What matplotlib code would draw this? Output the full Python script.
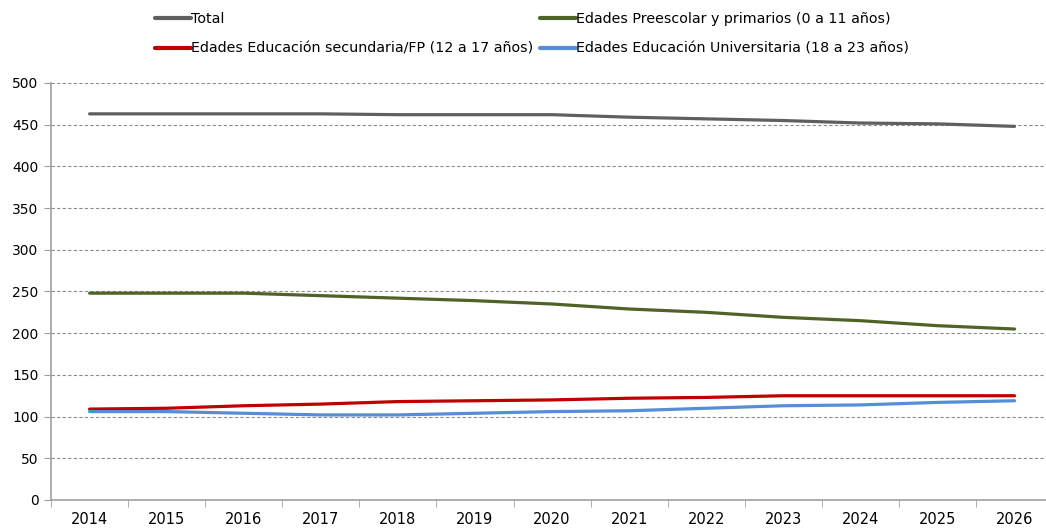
import numpy as np
import matplotlib.pyplot as plt
from matplotlib.ticker import FixedLocator

years = ["2014", "2015", "2016", "2017", "2018", "2019", "2020",
         "2021", "2022", "2023", "2024", "2025", "2026"]
total = [463, 463, 463, 463, 462, 462, 462, 459, 457, 455, 452, 451, 448]
preescolar = [248, 248, 248, 245, 242, 239, 235, 229, 225, 219, 215, 209, 205]
secundaria = [109, 110, 113, 115, 118, 119, 120, 122, 123, 125, 125, 125, 125]
universitaria = [106, 106, 104, 102, 102, 104, 106, 107, 110, 113, 114, 117, 119]

labels = ["Total",
          "Edades Preescolar y primarios (0 a 11 años)",
          "Edades Educación secundaria/FP (12 a 17 años)",
          "Edades Educación Universitaria (18 a 23 años)"]
colors = ["#5f5f5f", "#4f6228", "#c00000", "#558ed5"]

plt.rcParams["font.family"] = ["DejaVu Sans"]

fig = plt.figure(figsize=(10.46, 5.31), dpi=100)
ax = fig.add_axes([0.0488, 0.0584, 0.958, 0.7853])

x = np.arange(len(years))
series = [total, preescolar, secundaria, universitaria]
handles = []
for vals, lab, col in zip(series, labels, colors):
    h, = ax.plot(x, vals, color=col, lw=2.3, label=lab, solid_capstyle="round")
    handles.append(h)

ax.set_xlim(-0.5, len(years) - 0.5)
ax.set_ylim(0, 500)
ax.set_yticks(np.arange(0, 501, 50))
ax.set_xticks(x)
ax.set_xticklabels(years)
ax.xaxis.set_minor_locator(FixedLocator(np.arange(-0.5, len(years), 1)))
ax.tick_params(axis="x", which="major", length=0, pad=9, labelsize=10.5)
ax.tick_params(axis="x", which="minor", length=5, color="#a0a0a0", direction="out")
ax.tick_params(axis="y", length=5, color="#a0a0a0", labelsize=10, pad=4)

ax.grid(axis="y", color="#8c8c8c", linestyle=(0, (3, 2)), linewidth=0.8)
ax.set_axisbelow(True)
for s in ["top", "right"]:
    ax.spines[s].set_visible(False)
for s in ["left", "bottom"]:
    ax.spines[s].set_color("#a0a0a0")
    ax.spines[s].set_linewidth(1.2)

order = [0, 2, 1, 3]
leg = fig.legend([handles[i] for i in order], [labels[i] for i in order],
                 ncol=2, loc="upper left", bbox_to_anchor=(0.136, 1.002),
                 frameon=False, handlelength=2.5, handletextpad=0.0,
                 columnspacing=0.5, labelspacing=1.1,
                 prop={"family": ["Liberation Sans Narrow", "DejaVu Sans"], "size": 10.3})
for ln in leg.get_lines():
    ln.set_linewidth(3)

fig.savefig("out.png", dpi=100)
